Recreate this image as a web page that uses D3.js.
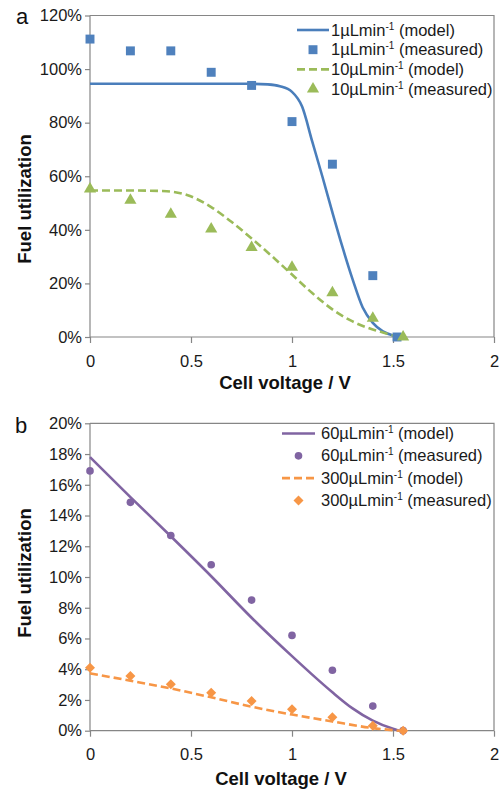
<!DOCTYPE html>
<html><head><meta charset="utf-8">
<script src="https://cdn.jsdelivr.net/npm/d3@7/dist/d3.min.js"></script>
<style>
body{margin:0;background:#fff;}
svg{display:block;font-family:"Liberation Sans",Arial,sans-serif;}
</style>
</head><body>
<svg id="c" width="503" height="793"></svg>
<script>
// ---------- shared ticks ----------
const xTicks = [0, 0.5, 1, 1.5, 2];
const yTicksA = [0, 0.2, 0.4, 0.6, 0.8, 1.0, 1.2];
const yTicksB = [0, 0.02, 0.04, 0.06, 0.08, 0.10, 0.12, 0.14, 0.16, 0.18, 0.20];

// ---------- Panel a data (fuel utilization, %) ----------
const voltsModel1 = [0, 0.2, 0.4, 0.6, 0.8, 0.88, 0.94, 1.0, 1.05, 1.1, 1.15, 1.2, 1.25, 1.3, 1.35, 1.4, 1.45, 1.5, 1.535];
const model1 = [94.5, 94.5, 94.5, 94.5, 94.5, 94.3, 93.6, 91.5, 86, 73, 60, 46.5, 33.5, 21.5, 11, 5.3, 2.1, 0.6, 0];
const voltsMeas1 = [0, 0.2, 0.4, 0.6, 0.8, 1.0, 1.2, 1.4, 1.52];
const measured1 = [111.2, 106.8, 106.8, 98.8, 93.9, 80.4, 64.5, 22.9, 0];

const voltsModel10 = [0, 0.2, 0.38, 0.48, 0.6, 0.7, 0.8, 0.9, 1.0, 1.1, 1.2, 1.3, 1.4, 1.45, 1.5, 1.535];
const model10 = [54.7, 54.7, 54.4, 53, 48.5, 43, 36.8, 30.2, 23.3, 16.4, 10.3, 5.8, 2.8, 1.7, 0.6, 0];
const voltsMeas10 = [0, 0.2, 0.4, 0.6, 0.8, 1.0, 1.2, 1.4, 1.55];
const measured10 = [55.2, 51.0, 45.8, 40.3, 33.4, 26, 16.5, 7, 0];

// ---------- Panel b data (fuel utilization, %) ----------
const voltsModel60 = [0, 0.2, 0.4, 0.6, 0.8, 1.0, 1.1, 1.2, 1.3, 1.4, 1.5, 1.53];
const model60 = [17.8, 15.2, 12.65, 10.05, 7.35, 4.85, 3.65, 2.5, 1.45, 0.65, 0.12, 0];
const voltsMeas60 = [0, 0.2, 0.4, 0.6, 0.8, 1.0, 1.2, 1.4, 1.55];
const measured60 = [16.9, 14.86, 12.7, 10.8, 8.5, 6.2, 3.93, 1.6, 0];

const voltsModel300 = [0, 0.2, 0.4, 0.6, 0.8, 1.0, 1.2, 1.4, 1.53];
const model300 = [3.73, 3.25, 2.75, 2.17, 1.56, 1.05, 0.6, 0.17, 0];
const voltsMeas300 = [0, 0.2, 0.4, 0.6, 0.8, 1.0, 1.2, 1.4, 1.55];
const measured300 = [4.1, 3.56, 3.02, 2.47, 1.93, 1.39, 0.87, 0.33, 0];

const BLUE = "#4a7ebb", GREEN = "#9bbb59", PURPLE = "#8064a2", ORANGE = "#f79646";
const AXIS = "#868686";

const zip = (xs, ys) => xs.map((x, i) => ({x, y: ys[i] / 100}));

const panels = [
  {
    letter: "a", left: 90, right: 494, top: 15.5, bottom: 337, yMax: 1.2, yTicks: yTicksA,
    letterPos: [16, 24], xTitle: [285, 389], yTitle: [199, 31],
    legend: {x0: 297, x1: 329, tx: 331, y0: 30, dy: 19.7},
    series: [
      {kind: "line", data: zip(voltsModel1, model1), color: BLUE, dash: null, name: "1µLmin", suffix: " (model)"},
      {kind: "mark", data: zip(voltsMeas1, measured1), color: "#4f81bd", sym: "square", name: "1µLmin", suffix: " (measured)"},
      {kind: "line", data: zip(voltsModel10, model10), color: GREEN, dash: "8,4", name: "10µLmin", suffix: " (model)"},
      {kind: "mark", data: zip(voltsMeas10, measured10), color: GREEN, sym: "triangle", name: "10µLmin", suffix: " (measured)"}
    ]
  },
  {
    letter: "b", left: 90, right: 494, top: 423.3, bottom: 730.7, yMax: 0.2, yTicks: yTicksB,
    letterPos: [15, 433], xTitle: [281, 785], yTitle: [573, 31],
    legend: {x0: 282, x1: 315, tx: 321, y0: 433.5, dy: 22.3},
    series: [
      {kind: "line", data: zip(voltsModel60, model60), color: PURPLE, dash: null, name: "60µLmin", suffix: " (model)"},
      {kind: "mark", data: zip(voltsMeas60, measured60), color: PURPLE, sym: "circle", name: "60µLmin", suffix: " (measured)"},
      {kind: "line", data: zip(voltsModel300, model300), color: ORANGE, dash: "8,4", name: "300µLmin", suffix: " (model)"},
      {kind: "mark", data: zip(voltsMeas300, measured300), color: ORANGE, sym: "diamond", name: "300µLmin", suffix: " (measured)"}
    ]
  }
];

const svg = d3.select("#c");

function symbolPath(sym) {
  if (sym === "square") return d3.symbol().type(d3.symbolSquare).size(80)();
  if (sym === "triangle") return d3.symbol().type(d3.symbolTriangle).size(64)();
  if (sym === "circle") return d3.symbol().type(d3.symbolCircle).size(46)();
  if (sym === "diamond") return d3.symbol().type(d3.symbolSquare).size(50)();
}
function symbolTransform(sym, x, y) {
  return sym === "diamond" ? `translate(${x},${y}) rotate(45)` : `translate(${x},${y})`;
}

panels.forEach(p => {
  const g = svg.append("g");
  const x = d3.scaleLinear().domain([0, 2]).range([p.left, p.right]);
  const y = d3.scaleLinear().domain([0, p.yMax]).range([p.bottom, p.top]);

  // frame (top & right)
  g.append("path")
    .attr("d", `M${p.left},${p.top}H${p.right}V${p.bottom}`)
    .attr("fill", "none").attr("stroke", AXIS).attr("stroke-width", 1.2);

  const xAxis = g.append("g").attr("transform", `translate(0,${p.bottom})`)
    .call(d3.axisBottom(x).tickValues(xTicks).tickSize(6).tickPadding(12).tickFormat(d3.format("")));
  const yAxis = g.append("g").attr("transform", `translate(${p.left},0)`)
    .call(d3.axisLeft(y).tickValues(p.yTicks).tickSize(5).tickPadding(3).tickFormat(d3.format(".0%")));
  [xAxis, yAxis].forEach(a => {
    a.select(".domain").attr("stroke", AXIS).attr("stroke-width", 1.2);
    a.selectAll(".tick line").attr("stroke", AXIS).attr("stroke-width", 1.2);
    a.selectAll(".tick text").attr("fill", "#1a1a1a").attr("font-size", 16.5)
      .attr("font-family", '"Liberation Sans",Arial,sans-serif');
  });
  // plain axis lines without end caps
  yAxis.select(".domain").attr("d", `M0,${p.bottom}V${p.top}`);
  xAxis.select(".domain").attr("d", `M${p.left},0H${p.right}`);

  // series
  const line = d3.line().x(d => x(d.x)).y(d => y(d.y)).curve(d3.curveMonotoneX);
  p.series.filter(s => s.kind === "line").forEach(s => {
    g.append("path").datum(s.data).attr("d", line)
      .attr("fill", "none").attr("stroke", s.color).attr("stroke-width", 2.6)
      .attr("stroke-dasharray", s.dash);
  });
  p.series.filter(s => s.kind === "mark").forEach(s => {
    g.selectAll(null).data(s.data).enter().append("path")
      .attr("d", symbolPath(s.sym))
      .attr("transform", d => symbolTransform(s.sym, x(d.x), y(d.y)))
      .attr("fill", s.color);
  });

  // legend
  const L = p.legend;
  p.series.forEach((s, i) => {
    const cy = L.y0 + i * L.dy;
    if (s.kind === "line") {
      g.append("line").attr("x1", L.x0).attr("x2", L.x1).attr("y1", cy).attr("y2", cy)
        .attr("stroke", s.color).attr("stroke-width", 2.6).attr("stroke-dasharray", s.dash);
    } else {
      g.append("path").attr("d", symbolPath(s.sym))
        .attr("transform", symbolTransform(s.sym, (L.x0 + L.x1) / 2, cy)).attr("fill", s.color);
    }
    const t = g.append("text").attr("x", L.tx).attr("y", cy + 5.5)
      .attr("font-size", 16.5).attr("fill", "#1a1a1a");
    t.append("tspan").text(s.name);
    t.append("tspan").attr("font-size", 10).attr("dy", -6).text("-1");
    t.append("tspan").attr("dy", 6).text(s.suffix);
  });

  // titles
  g.append("text").attr("x", p.letterPos[0]).attr("y", p.letterPos[1])
    .attr("font-size", 22).attr("fill", "#111").text(p.letter);
  g.append("text").attr("x", p.xTitle[0]).attr("y", p.xTitle[1])
    .attr("text-anchor", "middle").attr("font-size", 18.5).attr("font-weight", "bold")
    .attr("fill", "#111").text("Cell voltage / V");
  g.append("text").attr("transform", `translate(${p.yTitle[1]},${p.yTitle[0]}) rotate(-90)`)
    .attr("text-anchor", "middle").attr("font-size", 18.5).attr("font-weight", "bold")
    .attr("fill", "#111").text("Fuel utilization");
});
</script>
</body></html>
